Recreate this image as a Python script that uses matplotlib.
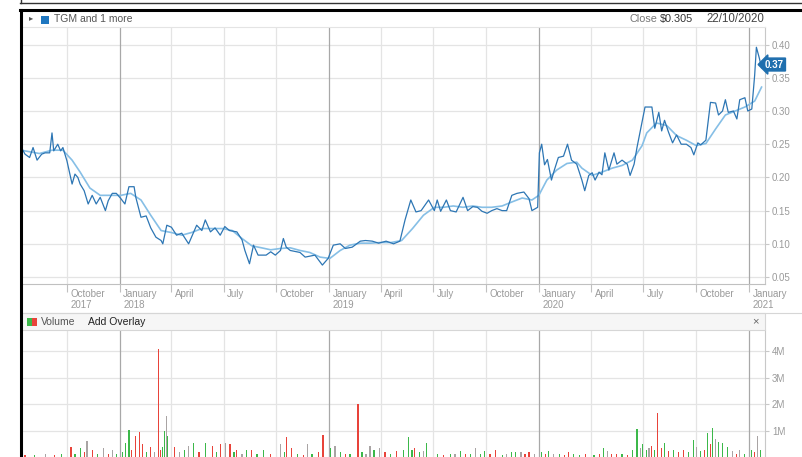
import numpy as np
import pandas as pd
import matplotlib
matplotlib.use('Agg')
import matplotlib.pyplot as plt
import matplotlib.dates as mdates
from matplotlib.lines import Line2D
from matplotlib.patches import Rectangle

plt.rcParams['font.family'] = ['Liberation Sans', 'DejaVu Sans']

W, H = 802, 457

# ---- data ----
price_dates = [
    '2017-07-13', '2017-07-20', '2017-07-28', '2017-08-03', '2017-08-10', '2017-08-18', '2017-08-24',
    '2017-09-01', '2017-09-05', '2017-09-08', '2017-09-15', '2017-09-20', '2017-09-24',
    '2017-10-01', '2017-10-10', '2017-10-15', '2017-10-20', '2017-10-24', '2017-10-31', '2017-11-07',
    '2017-11-14', '2017-11-21', '2017-11-28', '2017-12-07', '2017-12-12', '2017-12-19', '2017-12-26',
    '2018-01-03', '2018-01-10', '2018-01-17', '2018-01-26', '2018-01-29', '2018-02-07', '2018-02-16',
    '2018-02-24', '2018-03-05', '2018-03-14', '2018-03-17', '2018-03-24',
    '2018-04-01', '2018-04-10', '2018-04-19', '2018-05-01', '2018-05-15', '2018-05-24', '2018-05-30',
    '2018-06-08', '2018-06-16', '2018-06-25',
    '2018-07-03', '2018-07-11', '2018-07-24', '2018-08-02', '2018-08-07', '2018-08-15', '2018-08-22',
    '2018-08-30', '2018-09-13', '2018-09-21', '2018-09-29',
    '2018-10-08', '2018-10-13', '2018-10-18', '2018-10-25', '2018-11-11', '2018-11-20', '2018-12-07',
    '2018-12-20', '2018-12-30',
    '2019-01-08', '2019-01-20', '2019-01-29', '2019-02-10', '2019-02-24', '2019-03-05', '2019-03-17',
    '2019-03-28',
    '2019-04-10', '2019-04-23', '2019-05-04', '2019-05-13', '2019-05-23', '2019-06-01', '2019-06-10',
    '2019-06-23',
    '2019-07-03', '2019-07-08', '2019-07-14', '2019-07-24', '2019-07-31', '2019-08-10', '2019-08-22',
    '2019-08-30', '2019-09-08', '2019-09-16', '2019-09-24',
    '2019-10-03', '2019-10-11', '2019-10-20', '2019-10-29', '2019-11-06', '2019-11-15', '2019-11-24',
    '2019-12-06', '2019-12-15', '2019-12-20', '2019-12-30',
    '2020-01-02', '2020-01-06', '2020-01-11', '2020-01-16', '2020-01-23', '2020-01-28', '2020-02-04',
    '2020-02-13', '2020-02-20', '2020-02-27', '2020-03-07', '2020-03-16', '2020-03-21', '2020-03-28',
    '2020-04-03', '2020-04-08', '2020-04-15', '2020-04-20', '2020-04-25', '2020-05-02', '2020-05-11',
    '2020-05-16', '2020-05-25', '2020-06-03', '2020-06-08', '2020-06-15', '2020-06-20', '2020-06-28',
    '2020-07-04', '2020-07-16', '2020-07-21', '2020-07-28', '2020-08-02', '2020-08-07', '2020-08-14',
    '2020-08-21', '2020-08-28', '2020-09-05', '2020-09-14', '2020-09-22', '2020-09-27',
    '2020-10-04', '2020-10-09', '2020-10-18', '2020-10-26', '2020-11-04', '2020-11-09', '2020-11-16',
    '2020-11-21', '2020-11-26', '2020-12-05', '2020-12-11', '2020-12-16', '2020-12-25', '2020-12-30',
    '2021-01-06', '2021-01-11', '2021-01-14', '2021-01-19', '2021-01-23',
]
price_vals = [
    0.246, 0.235, 0.230, 0.245, 0.226, 0.235, 0.237,
    0.237, 0.267, 0.240, 0.250, 0.240, 0.245,
    0.225, 0.190, 0.205, 0.200, 0.190, 0.180, 0.160,
    0.173, 0.160, 0.170, 0.150, 0.165, 0.176, 0.176,
    0.168, 0.160, 0.186, 0.186, 0.170, 0.140, 0.142,
    0.124, 0.110, 0.105, 0.100, 0.128,
    0.125, 0.113, 0.116, 0.100, 0.128, 0.120, 0.136,
    0.118, 0.124, 0.113,
    0.126, 0.120, 0.118, 0.106, 0.090, 0.070, 0.098,
    0.083, 0.083, 0.088, 0.083,
    0.090, 0.108, 0.095, 0.090, 0.087, 0.080, 0.083,
    0.068, 0.078,
    0.098, 0.100, 0.093, 0.095, 0.104, 0.105, 0.104,
    0.101,
    0.104, 0.100, 0.104, 0.136, 0.166, 0.148, 0.150,
    0.166,
    0.150, 0.166, 0.149, 0.166, 0.150, 0.148, 0.170,
    0.150, 0.156, 0.155, 0.149,
    0.146, 0.150, 0.153, 0.150, 0.150, 0.173, 0.176,
    0.178, 0.168, 0.150, 0.155,
    0.237, 0.250, 0.219, 0.227, 0.196, 0.211, 0.230,
    0.232, 0.250, 0.226, 0.220, 0.196, 0.180, 0.203,
    0.207, 0.196, 0.208, 0.204, 0.237, 0.211, 0.237,
    0.220, 0.226, 0.220, 0.203, 0.220, 0.245, 0.280,
    0.306, 0.306, 0.274, 0.298, 0.270, 0.286, 0.268,
    0.252, 0.264, 0.250, 0.250, 0.245, 0.234,
    0.252, 0.249, 0.256, 0.313, 0.312, 0.294, 0.300,
    0.317, 0.298, 0.300, 0.288, 0.317, 0.320, 0.300,
    0.303, 0.354, 0.396, 0.380, 0.365,
]

ma_dates = [
    '2017-07-13', '2017-08-14', '2017-09-05', '2017-09-24', '2017-10-10', '2017-10-24', '2017-11-10',
    '2017-11-28', '2017-12-16', '2018-01-03', '2018-01-20', '2018-02-07', '2018-02-24', '2018-03-14',
    '2018-04-01', '2018-04-19', '2018-05-06', '2018-05-24', '2018-06-11', '2018-06-29', '2018-07-16',
    '2018-08-02', '2018-08-19', '2018-09-05', '2018-09-21', '2018-10-08', '2018-10-25', '2018-11-11',
    '2018-11-28', '2018-12-16', '2019-01-02', '2019-01-20', '2019-02-06', '2019-02-24', '2019-03-14',
    '2019-04-01', '2019-04-19', '2019-05-07', '2019-05-26', '2019-06-14', '2019-07-03', '2019-07-19',
    '2019-08-05', '2019-08-22', '2019-09-08', '2019-09-24', '2019-10-11', '2019-10-29', '2019-11-15',
    '2019-12-03', '2019-12-20', '2020-01-01', '2020-01-15', '2020-02-01', '2020-02-19', '2020-03-07',
    '2020-03-16', '2020-04-03', '2020-04-20', '2020-05-08', '2020-05-25', '2020-06-12', '2020-06-29',
    '2020-07-07', '2020-07-24', '2020-08-11', '2020-08-28', '2020-09-14', '2020-10-01', '2020-10-18',
    '2020-11-04', '2020-11-21', '2020-12-08', '2020-12-25', '2021-01-11', '2021-01-23',
]
ma_vals = [
    0.241, 0.236, 0.241, 0.241, 0.226, 0.208, 0.184,
    0.173, 0.173, 0.173, 0.176, 0.166, 0.143, 0.120,
    0.117, 0.113, 0.117, 0.123, 0.123, 0.123, 0.120,
    0.108, 0.097, 0.094, 0.091, 0.093, 0.094, 0.090,
    0.087, 0.080, 0.078, 0.090, 0.098, 0.101, 0.101,
    0.102, 0.102, 0.105, 0.123, 0.143, 0.155, 0.155,
    0.157, 0.155, 0.157, 0.155, 0.155, 0.157, 0.163,
    0.169, 0.166, 0.173, 0.196, 0.211, 0.221, 0.223,
    0.214, 0.203, 0.208, 0.214, 0.218, 0.226, 0.248,
    0.267, 0.282, 0.278, 0.263, 0.256, 0.248, 0.251,
    0.273, 0.294, 0.300, 0.306, 0.315, 0.336,
]

# volume in millions, colour code: r = down, g = up, k = unchanged
vol_dates = [
    '2017-07-20', '2017-08-06', '2017-08-24', '2017-09-10', '2017-09-22',
    '2017-10-08', '2017-10-15', '2017-10-24', '2017-10-31', '2017-11-05', '2017-11-14', '2017-11-23',
    '2017-12-04', '2017-12-12', '2017-12-19', '2017-12-26',
    '2018-01-06', '2018-01-11', '2018-01-17', '2018-01-22', '2018-01-29', '2018-02-05', '2018-02-10',
    '2018-02-17', '2018-02-24', '2018-03-03', '2018-03-10', '2018-03-13', '2018-03-17', '2018-03-20',
    '2018-03-24', '2018-03-25',
    '2018-04-06', '2018-04-15', '2018-04-24', '2018-05-01', '2018-05-10', '2018-05-19', '2018-05-30',
    '2018-06-11', '2018-06-18', '2018-06-25',
    '2018-07-04', '2018-07-12', '2018-07-19', '2018-07-24', '2018-08-02', '2018-08-10', '2018-08-18',
    '2018-08-28', '2018-09-09', '2018-09-21',
    '2018-10-08', '2018-10-15', '2018-10-18', '2018-10-27', '2018-11-06', '2018-11-17', '2018-11-24',
    '2018-12-02', '2018-12-13', '2018-12-21',
    '2019-01-03', '2019-01-11', '2019-01-20', '2019-01-29', '2019-02-06', '2019-02-20', '2019-02-27',
    '2019-03-06', '2019-03-13', '2019-03-20', '2019-03-29',
    '2019-04-08', '2019-04-17', '2019-04-28', '2019-05-10', '2019-05-19', '2019-05-25', '2019-05-30',
    '2019-06-07', '2019-06-14', '2019-06-20',
    '2019-07-08', '2019-07-19', '2019-07-31', '2019-08-08', '2019-08-18', '2019-08-27', '2019-09-04',
    '2019-09-13', '2019-09-21', '2019-09-28',
    '2019-10-08', '2019-10-18', '2019-10-29', '2019-11-06', '2019-11-15', '2019-11-22', '2019-12-01',
    '2019-12-08', '2019-12-15', '2019-12-24',
    '2020-01-06', '2020-01-13', '2020-01-18', '2020-01-27', '2020-02-06', '2020-02-15', '2020-02-22',
    '2020-03-02', '2020-03-12', '2020-03-23',
    '2020-04-06', '2020-04-15', '2020-04-23', '2020-04-29', '2020-05-07', '2020-05-16', '2020-05-25',
    '2020-06-03', '2020-06-12', '2020-06-20', '2020-06-26', '2020-06-29',
    '2020-07-06', '2020-07-11', '2020-07-16', '2020-07-21', '2020-07-26', '2020-08-01', '2020-08-07',
    '2020-08-14', '2020-08-23', '2020-08-31', '2020-09-09', '2020-09-17', '2020-09-27',
    '2020-10-01', '2020-10-09', '2020-10-16', '2020-10-21', '2020-10-26', '2020-10-30', '2020-11-04',
    '2020-11-09', '2020-11-16', '2020-11-24', '2020-12-03', '2020-12-10', '2020-12-16', '2020-12-25',
    '2021-01-06', '2021-01-11', '2021-01-16', '2021-01-21',
]
vol_vals = [
    0.08, 0.10, 0.12, 0.10, 0.12,
    0.41, 0.15, 0.35, 0.20, 0.63, 0.30, 0.15,
    0.35, 0.15, 0.30, 0.15,
    0.20, 0.55, 1.04, 0.30, 0.80, 0.95, 0.50,
    0.20, 0.40, 0.20, 4.07, 0.30, 0.40, 1.00,
    1.56, 0.80,
    0.40, 0.20, 0.30, 0.45, 0.55, 0.20, 0.55,
    0.45, 0.20, 0.50,
    0.55, 0.50, 0.20, 0.30, 0.15, 0.30, 0.30,
    0.15, 0.30, 0.12,
    0.50, 0.20, 0.76, 0.35, 0.15, 0.10, 0.50,
    0.15, 0.20, 0.85,
    0.35, 0.45, 0.20, 0.15, 0.12, 2.01, 0.20,
    0.15, 0.45, 0.30, 0.35,
    0.20, 0.15, 0.25, 0.30, 0.79, 0.30, 0.35,
    0.20, 0.25, 0.55,
    0.15, 0.10, 0.12, 0.15, 0.25, 0.15, 0.15,
    0.35, 0.15, 0.25,
    0.12, 0.30, 0.10, 0.15, 0.20, 0.20, 0.20,
    0.15, 0.20, 0.15,
    0.20, 0.15, 0.25, 0.12, 0.15, 0.10, 0.20,
    0.15, 0.10, 0.15,
    0.10, 0.15, 0.35, 0.25, 0.15, 0.12, 0.15,
    0.10, 0.30, 1.06, 0.35, 0.50,
    0.30, 0.35, 0.45, 0.30, 1.67, 0.35, 0.55,
    0.25, 0.30, 0.20, 0.30, 0.20, 0.65,
    0.40, 0.25, 0.30, 0.94, 0.50, 1.10, 0.70,
    0.60, 0.55, 0.40, 0.25, 0.15, 0.30, 0.15,
    0.30, 0.20, 0.80, 0.30,
]
vol_dirs = [
    'r', 'g', 'k', 'r', 'g',
    'r', 'g', 'g', 'r', 'k', 'r', 'g',
    'k', 'r', 'k', 'g',
    'g', 'g', 'g', 'r', 'r', 'r', 'r',
    'g', 'r', 'k', 'r', 'r', 'g', 'g',
    'k', 'g',
    'r', 'k', 'g', 'k', 'g', 'r', 'g',
    'r', 'g', 'r',
    'k', 'r', 'g', 'r', 'k', 'g', 'r',
    'g', 'g', 'r',
    'k', 'g', 'r', 'r', 'g', 'r', 'k',
    'g', 'r', 'r',
    'g', 'k', 'g', 'r', 'g', 'r', 'g',
    'k', 'k', 'g', 'k',
    'r', 'g', 'r', 'g', 'g', 'g', 'r',
    'g', 'k', 'g',
    'g', 'r', 'g', 'k', 'g', 'r', 'g',
    'k', 'g', 'g',
    'r', 'r', 'g', 'k', 'g', 'g', 'k',
    'r', 'r', 'k',
    'g', 'r', 'g', 'k', 'g', 'r', 'r',
    'g', 'g', 'r',
    'g', 'r', 'g', 'k', 'r', 'r', 'g',
    'r', 'g', 'g', 'k', 'g',
    'g', 'k', 'r', 'g', 'r', 'r', 'g',
    'r', 'g', 'r', 'r', 'g', 'g',
    'k', 'g', 'r', 'g', 'r', 'g', 'k',
    'g', 'g', 'g', 'k', 'r', 'k', 'g',
    'g', 'r', 'k', 'g',
]

quarter_ticks = ['2017-10-01', '2018-01-01', '2018-04-01', '2018-07-01', '2018-10-01',
                 '2019-01-01', '2019-04-01', '2019-07-01', '2019-10-01', '2020-01-01',
                 '2020-04-01', '2020-07-01', '2020-10-01', '2021-01-01']
price_ticks = [0.05, 0.10, 0.15, 0.20, 0.25, 0.30, 0.35, 0.40]
vol_ticks = [1, 2, 3, 4]
last_price = 0.37

# ---- helpers ----
def rect(x0, y0, x1, y1):
    return [x0 / W, 1 - y1 / H, (x1 - x0) / W, (y1 - y0) / H]

def fline(x0, y0, x1, y1, **kw):
    fig.add_artist(Line2D([x0 / W, x1 / W], [1 - y0 / H, 1 - y1 / H],
                          transform=fig.transFigure, **kw))

colour_map = {'r': '#e8433a', 'g': '#3cb84a', 'k': '#a9a4a4'}
GRID = '#e4e4e4'
YEAR = '#a8a8a8'
LABEL = '#9a9a9a'

fig = plt.figure(figsize=(W / 100, H / 100), dpi=100)
fig.patch.set_facecolor('white')

pd_price = pd.to_datetime(price_dates)
pd_ma = pd.to_datetime(ma_dates)
pd_vol = pd.to_datetime(vol_dates)
qt = pd.to_datetime(quarter_ticks)
xlim = (pd.Timestamp('2017-07-13'), pd.Timestamp('2021-01-29'))

# ---- price panel ----
ax = fig.add_axes(rect(21, 27, 765, 284))
ax.set_xlim(xlim)
ax.set_ylim(0.0395, 0.4265)
for v in price_ticks:
    ax.axhline(v, color=GRID, lw=0.9, zorder=0)
for d in qt:
    ax.axvline(d, color=YEAR if d.month == 1 else GRID, lw=0.9, zorder=0)
ax.plot(pd_ma, ma_vals, color='#86bfe6', lw=1.2, zorder=2)
ax.plot(pd_price, price_vals, color='#2d76b4', lw=0.9, zorder=3)

ax.spines['left'].set_visible(False)
ax.spines['top'].set_color(GRID)
ax.spines['right'].set_color('#c8c8c8')
ax.spines['bottom'].set_color('#c0c0c0')
ax.set_xticks(qt)
ax.tick_params(axis='x', direction='out', length=6, color='#c0c0c0', labelbottom=False)
ax.yaxis.tick_right()
ax.set_yticks(price_ticks)
ax.set_yticklabels([f'{v:.2f}' for v in price_ticks])
ax.tick_params(axis='y', length=3, color='#c8c8c8', labelsize=7, labelcolor=LABEL, pad=2)

month_names = {1: 'January', 4: 'April', 7: 'July', 10: 'October'}
for d in qt:
    lab = month_names[d.month]
    if d.month == 1 or (d.month == 10 and d.year == 2017):
        lab += f'\n{d.year}'
    ax.text(d + pd.Timedelta(days=6), -0.018, lab, transform=ax.get_xaxis_transform(),
            ha='left', va='top', fontsize=7, color=LABEL, linespacing=1.15, clip_on=False)

# last price tag
ax.annotate(f'{last_price:.2f}', xy=(1.0, last_price), xycoords=('axes fraction', 'data'),
            xytext=(0, 0), textcoords='offset points', ha='left', va='center',
            fontsize=7, fontweight='bold', color='white',
            bbox=dict(boxstyle='larrow,pad=0.15', fc='#1f6fae', ec='#1f6fae'),
            annotation_clip=False, zorder=5)

# ---- volume panel ----
vx = fig.add_axes(rect(21, 330, 765, 457.6))
vx.set_xlim(xlim)
vx.set_ylim(0, 4.8)
for v in vol_ticks:
    vx.axhline(v, color=GRID, lw=0.9, zorder=0)
for d in qt:
    vx.axvline(d, color=YEAR if d.month == 1 else GRID, lw=0.9, zorder=0)
vx.bar(pd_vol, vol_vals, width=2.0, color=[colour_map[c] for c in vol_dirs], zorder=2)
vx.spines['left'].set_visible(False)
vx.spines['top'].set_visible(False)
vx.spines['bottom'].set_visible(False)
vx.spines['right'].set_color('#c8c8c8')
vx.set_xticks([])
vx.yaxis.tick_right()
vx.set_yticks(vol_ticks)
vx.set_yticklabels([f'{v}M' for v in vol_ticks])
vx.tick_params(axis='y', length=3, color='#c8c8c8', labelsize=7, labelcolor=LABEL, pad=2)

# ---- header bars and frame ----
fig.add_artist(Rectangle((21 / W, 1 - 330 / H), (765 - 21) / W, 17 / H,
                         transform=fig.transFigure, fc='#f6f6f6', ec='#d6d6d6', lw=0.8))
fline(21, 313, 802, 313, color='#d6d6d6', lw=0.8)

fline(20, 3, 802, 3, color='#333333', lw=1.0)
fline(21, 0, 21, 3, color='#333333', lw=1.0)
fline(20, 10, 802, 10, color='black', lw=2.2)
fline(21, 10, 21, 457, color='black', lw=2.2)

fig.text(29 / W, 1 - 19 / H, '\u25B8', fontsize=6, color='#555555', va='center', ha='left')
fig.add_artist(Rectangle((41 / W, 1 - 23.5 / H), 8 / W, 8 / H,
                         transform=fig.transFigure, fc='#1f77c0', ec='none'))
fig.text(54 / W, 1 - 19 / H, 'TGM and 1 more', fontsize=7.5, color='#555555', va='center')
fig.text(629 / W, 1 - 19 / H, 'Close', fontsize=7.8, color='#777777', va='center')
fig.text(660 / W, 1 - 19 / H, '$0.305', fontsize=7.8, color='#333333', va='center')
fig.text(706 / W, 1 - 19 / H, '22/10/2020', fontsize=8.3, color='#444444', va='center')

fig.add_artist(Rectangle((27 / W, 1 - 326 / H), 5 / W, 8 / H,
                         transform=fig.transFigure, fc='#3cb84a', ec='none'))
fig.add_artist(Rectangle((32 / W, 1 - 326 / H), 5 / W, 8 / H,
                         transform=fig.transFigure, fc='#e8433a', ec='none'))
fig.text(41 / W, 1 - 322 / H, 'Volume', fontsize=7.5, color='#555555', va='center')
fig.text(88 / W, 1 - 322 / H, 'Add Overlay', fontsize=7.5, color='#222222', va='center')
fig.text(752 / W, 1 - 321.5 / H, '\u00D7', fontsize=8, color='#666666', va='center')

fig.savefig('out.png', dpi=100)
